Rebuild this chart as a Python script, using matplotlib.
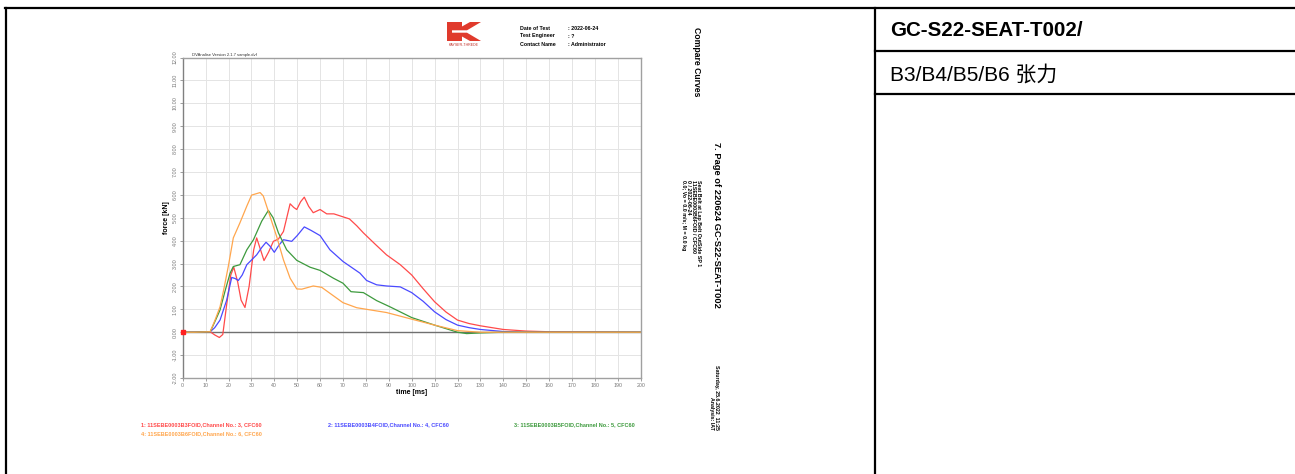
import matplotlib.pyplot as plt
from matplotlib.patches import Polygon

plt.rcParams['font.family'] = ['Liberation Sans', 'Noto Sans CJK SC', 'DejaVu Sans']

# Curve data (time in ms, force in kN)
t_red = [0, 5, 12, 14, 16, 17.5, 19.2, 21, 22.3, 24, 25.5, 27.2, 29, 31, 32.3, 34, 35.5, 37.5,
         39.6, 41.8, 44, 46.9, 48.5, 49.8, 51.5, 53.1, 55, 57, 60, 62.9, 66, 70, 72.8, 76,
         78.9, 84, 89, 95, 100, 105, 110, 115, 120, 125, 130, 140, 150, 160, 200]
f_red = [0, 0, 0.02, -0.12, -0.23, -0.1, 1.2, 2.5, 2.84, 2.2, 1.4, 1.08, 2.0, 3.6, 4.12, 3.6, 3.13, 3.5,
         3.97, 4.07, 4.4, 5.61, 5.45, 5.36, 5.7, 5.9, 5.5, 5.22, 5.36, 5.17, 5.17, 5.04, 4.95, 4.65,
         4.34, 3.85, 3.38, 2.95, 2.5, 1.9, 1.33, 0.88, 0.53, 0.38, 0.28, 0.12, 0.05, 0.02, 0.0]

t_blue = [0, 5, 12, 14, 16.3, 19.2, 21.4, 22.8, 24.3, 26, 28, 32.3, 34.5, 36.4, 38.2, 40, 42, 44,
          47.6, 50, 53.1, 56, 60, 64.3, 70, 77.4, 80.3, 84.7, 89, 95, 100, 105, 110, 115, 120,
          125, 130, 140, 150, 200]
f_blue = [0, 0, 0.02, 0.2, 0.53, 1.4, 2.39, 2.35, 2.26, 2.5, 2.95, 3.38, 3.7, 3.93, 3.75, 3.49, 3.8, 4.04,
          3.97, 4.22, 4.6, 4.45, 4.22, 3.6, 3.09, 2.58, 2.26, 2.07, 2.02, 1.98, 1.73, 1.35, 0.89, 0.55, 0.31,
          0.2, 0.12, 0.03, 0.0, 0.0]

t_green = [0, 5, 12, 14, 16.3, 18.5, 20.7, 22.1, 25, 28, 30.9, 34.5, 37.4, 39.5, 41.8, 45.4,
           49.8, 55.6, 60, 65.8, 70, 73.5, 78.9, 84.7, 90.5, 100, 110, 120, 124, 130, 140, 200]
f_green = [0, 0, 0.02, 0.45, 0.97, 1.8, 2.58, 2.87, 2.95, 3.6, 4.04, 4.85, 5.32, 5.0, 4.34, 3.6,
           3.14, 2.84, 2.7, 2.36, 2.14, 1.77, 1.73, 1.38, 1.11, 0.64, 0.31, 0.0, -0.06, -0.03, 0.0, 0.0]

t_orange = [0, 5, 12, 14, 16.3, 18, 19.9, 22.1, 25, 28, 30.1, 33.8, 35.2, 38.1, 41, 44, 46.9,
            49.8, 52, 57, 60.7, 64.3, 70, 76, 80.3, 89, 100, 110, 120, 130, 140, 200]
f_orange = [0, 0, 0.02, 0.5, 1.11, 1.9, 2.87, 4.12, 4.78, 5.51, 5.99, 6.1, 5.95, 5.07, 4.19, 3.16, 2.36,
            1.89, 1.88, 2.02, 1.96, 1.7, 1.29, 1.07, 1.0, 0.86, 0.57, 0.31, 0.07, 0.0, 0.0, 0.0]

x_ticks = list(range(0, 201, 10))
y_ticks = list(range(-2, 13))

legend_labels = ['1: 11SEBE0003B3FOID,Channel No.: 3, CFC60',
                 '2: 11SEBE0003B4FOID,Channel No.: 4, CFC60',
                 '3: 11SEBE0003B5FOID,Channel No.: 5, CFC60',
                 '4: 11SEBE0003B6FOID,Channel No.: 6, CFC60']
colors = ['#ff4a4a', '#4a4aff', '#3d9a3d', '#ffa64d']

W, H = 1295, 474
fig = plt.figure(figsize=(W / 100, H / 100), dpi=100)


def fx(px):
    return px / W


def fy(py):
    return 1 - py / H


def pts(coords):
    return [(fx(a), fy(b)) for a, b in coords]


# table borders
border = dict(color='black', lw=1.6, transform=fig.transFigure, clip_on=False)
fig.add_artist(plt.Line2D([fx(5), 1], [fy(7.5), fy(7.5)], **border))
fig.add_artist(plt.Line2D([fx(6), fx(6)], [fy(7.5), 0], **border))
fig.add_artist(plt.Line2D([fx(875), fx(875)], [fy(7.5), 0], **border))
fig.add_artist(plt.Line2D([fx(875), 1], [fy(51), fy(51)], **border))
fig.add_artist(plt.Line2D([fx(875), 1], [fy(94), fy(94)], **border))

fig.text(fx(890), fy(31), 'GC-S22-SEAT-T002/', fontsize=14.8, fontweight='bold', va='center', ha='left')
fig.text(fx(890), fy(75), 'B3/B4/B5/B6 张力', fontsize=15, va='center', ha='left')

# the chart
ax = fig.add_axes([fx(182.7), fy(378), fx(640.7) - fx(182.7), fy(57.5) - fy(378)])
series = [(t_red, f_red), (t_blue, f_blue), (t_green, f_green), (t_orange, f_orange)]
ax.axhline(0, color='#707070', lw=1.0, zorder=1)
for (t, f), c in zip(series, colors):
    ax.plot(t, f, color=c, lw=0.9, zorder=2)
ax.set_xlim(0, 200)
ax.set_ylim(-2, 12)
ax.set_xticks(x_ticks)
ax.set_yticks(y_ticks)
ax.set_xticklabels([str(v) for v in x_ticks], fontsize=3.8, color='#555555')
ax.set_yticklabels(['%.2f' % v for v in y_ticks], fontsize=3.9, rotation=90, va='center', color='#555555')
ax.get_yticklabels()[2].set_color('#ff4a4a')
ax.tick_params(length=2, width=0.5, pad=1.5, colors='#777777')
ax.grid(True, color='#e4e4e4', lw=0.7)
ax.set_axisbelow(True)
for s in ax.spines.values():
    s.set_color('#a0a0a0')
    s.set_linewidth(1.0)
ax.spines['left'].set_color('#808080')
ax.set_xlabel('time [ms]', fontsize=5, fontweight='bold', labelpad=1)
ax.set_ylabel('force [kN]', fontsize=5, fontweight='bold', labelpad=2)
ax.plot([0], [0], marker='s', ms=2.5, color='#ff2020', clip_on=False, zorder=3)
ax.text(0.02, 1.003, 'DVAnalise Version 2.1.7 sample.dvf', transform=ax.transAxes,
        fontsize=3, va='bottom', ha='left', color='#333333')

# header logo
logo_red = '#e03a2c'
fig.add_artist(Polygon(pts([(447, 22), (462, 22), (462, 26.5), (470, 22), (481, 22), (467, 30.3),
                            (452, 30.3), (452, 32.7), (467, 32.7), (481, 41), (470, 41), (462, 36.5),
                            (462, 41), (447, 41)]),
                       closed=True, facecolor=logo_red, edgecolor='none', transform=fig.transFigure))
fig.text(fx(464), fy(44.5), 'KAYSER-THREDE', fontsize=2.6, color='#c03028', ha='center', va='center')
hdr = dict(fontsize=3.8, fontweight='bold', va='center', ha='left')
fig.text(fx(520), fy(28), 'Date of Test', **hdr)
fig.text(fx(520), fy(36), 'Test Engineer', **hdr)
fig.text(fx(520), fy(44), 'Contact Name', **hdr)
fig.text(fx(568), fy(28), ': 2022-06-24', **hdr)
fig.text(fx(568), fy(36), ': ?', **hdr)
fig.text(fx(568), fy(44), ': Administrator', **hdr)

# rotated side texts
fig.text(fx(697), fy(27), 'Compare Curves', fontsize=6.2, fontweight='bold', rotation=-90,
         ha='center', va='top')
fig.text(fx(716), fy(142), '7. Page of 220624 GC-S22-SEAT-T002', fontsize=6.7, fontweight='bold',
         rotation=-90, ha='center', va='top')
fig.text(fx(691), fy(180), 'Seat Belt at Lap Belt OutSide SP 1\n11SEBE0003B6FOID / CFC60\n'
         '0 / 2022-06-24\n0.0; Vo = 0.0 m/s; M = 0.0 kg',
         fontsize=3.8, fontweight='bold', rotation=-90, ha='center', va='top',
         multialignment='left', linespacing=1.0)
fig.text(fx(714), fy(430), 'Saturday, 25.6.2022  11:25\nAnalysis: IAT', fontsize=3.8,
         fontweight='bold', rotation=-90, ha='center', va='bottom', multialignment='right',
         linespacing=1.0)

# legend texts
leg_pos = [(141, 425), (328, 425), (514, 425), (141, 434)]
for lab, c, (px, py) in zip(legend_labels, colors, leg_pos):
    fig.text(fx(px), fy(py), lab, fontsize=4.0, fontweight='bold', color=c, ha='left', va='center')

fig.savefig('out.png', dpi=100)
